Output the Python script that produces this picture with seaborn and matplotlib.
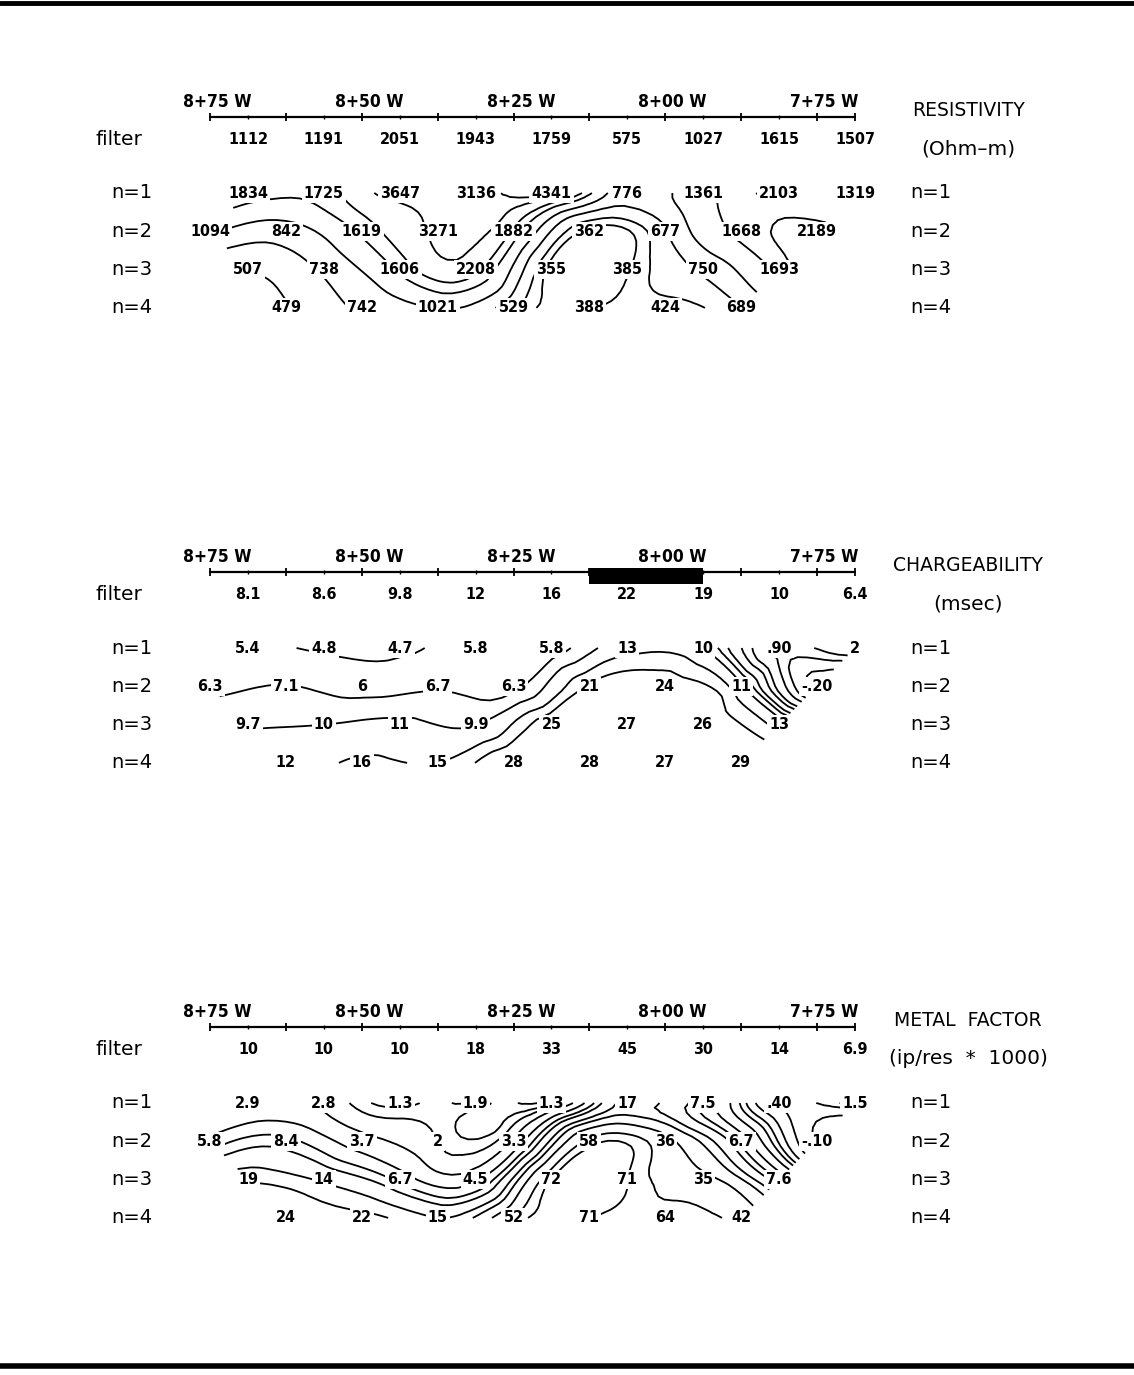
import numpy as np
import matplotlib
matplotlib.use("Agg")
import matplotlib.pyplot as plt
import matplotlib.tri as mtri
from matplotlib import font_manager
from matplotlib.lines import Line2D
from matplotlib.transforms import blended_transform_factory
import seaborn as sns

# station (m) of the plotted points, 8+75 W on the left
ST_ODD = [868.75, 856.25, 843.75, 831.25, 818.75, 806.25, 793.75, 781.25, 768.75]
ST_EVEN = [875.0, 862.5, 850.0, 837.5, 825.0, 812.5, 800.0, 787.5, 775.0]
ROW_STATIONS = {1: ST_ODD, 2: ST_EVEN, 3: ST_ODD[:8], 4: ST_EVEN[1:8]}

STATION_TICKS = [875, 850, 825, 800, 775]
STATION_LABELS = ["8+75 W", "8+50 W", "8+25 W", "8+00 W", "7+75 W"]

# resistivity (Ohm-m)
res_filter = ["1112", "1191", "2051", "1943", "1759", "575", "1027", "1615", "1507"]
res_n1 = ["1834", "1725", "3647", "3136", "4341", "776", "1361", "2103", "1319"]
res_n2 = ["1094", "842", "1619", "3271", "1882", "362", "677", "1668", "2189"]
res_n3 = ["507", "738", "1606", "2208", "355", "385", "750", "1693"]
res_n4 = ["479", "742", "1021", "529", "388", "424", "689"]
res_levels = [400, 500, 700, 1000, 1500, 2000, 3000, 4000]

# chargeability (msec)
chg_filter = ["8.1", "8.6", "9.8", "12", "16", "22", "19", "10", "6.4"]
chg_n1 = ["5.4", "4.8", "4.7", "5.8", "5.8", "13", "10", ".90", "2"]
chg_n2 = ["6.3", "7.1", "6", "6.7", "6.3", "21", "24", "11", "-.20"]
chg_n3 = ["9.7", "10", "11", "9.9", "25", "27", "26", "13"]
chg_n4 = ["12", "16", "15", "28", "28", "27", "29"]
chg_levels = [0, 0.5, 1, 2, 3, 5, 7, 10, 15, 20]
chg_zone = (812.5, 793.75)

# metal factor (ip/res * 1000)
mf_filter = ["10", "10", "10", "18", "33", "45", "30", "14", "6.9"]
mf_n1 = ["2.9", "2.8", "1.3", "1.9", "1.3", "17", "7.5", ".40", "1.5"]
mf_n2 = ["5.8", "8.4", "3.7", "2", "3.3", "58", "36", "6.7", "-.10"]
mf_n3 = ["19", "14", "6.7", "4.5", "72", "71", "35", "7.6"]
mf_n4 = ["24", "22", "15", "52", "71", "64", "42"]
mf_levels = [0, 0.5, 1, 1.5, 2, 3, 5, 7.5, 10, 15, 20, 30, 50, 70]

sns.set_theme(style="white")
plt.rcParams["font.family"] = ["DejaVu Sans"]
plt.rcParams["text.color"] = "black"

# narrow plotter-like font for the numbers
fonts = font_manager.fontManager.ttflist
names = {f.name for f in fonts}
NUM = dict(family="DejaVu Sans", weight="bold", size=10.5)
if "Liberation Sans Narrow" in names:
    NUM = dict(family="Liberation Sans Narrow", weight="bold", size=12)
elif any(f.name == "DejaVu Sans" and f.stretch == "condensed" for f in fonts):
    NUM = dict(family="DejaVu Sans", stretch="condensed", weight="bold", size=11.5)
elif "Liberation Sans" in names:
    NUM = dict(family="Liberation Sans", weight="bold", size=11)
STN = dict(NUM, size=NUM["size"] + 1)

W, H = 1134, 1375
PX_M = (855 - 210) / 106.25      # pixels per metre along the line
ROW_PX = 38.3                    # pixels per n level
ROW_M = ROW_PX / PX_M            # n spacing in metres for triangulation
BAND = 150

fig = plt.figure(figsize=(W / 100, H / 100), dpi=100)


def draw_panel(n1_px, title, unit, filt, rows, levels, scale, zone=None,
               kind="min_E"):
    top_px = n1_px - BAND
    ax = fig.add_axes([0, 1 - (top_px + 2 * BAND) / H, 1, 2 * BAND / H])
    ax.set_xlim(875 + 210 / PX_M, 875 - (W - 210) / PX_M)
    ax.set_ylim(1 + BAND / ROW_PX, 1 - BAND / ROW_PX)
    ax.axis("off")
    lab = blended_transform_factory(ax.transAxes, ax.transData)

    axis_y, filt_y, st_y = -0.99, -0.39, -1.37

    # station line with ticks
    ax.plot([875, 768.75], [axis_y, axis_y], color="black", lw=1.6, zorder=2)
    ax.vlines(np.arange(875, 770, -12.5), axis_y - 0.1, axis_y + 0.1,
              color="black", lw=1.3)
    ax.vlines(np.arange(868.75, 770, -12.5), axis_y - 0.05, axis_y + 0.05,
              color="black", lw=1.0)
    ax.vlines([768.75], axis_y - 0.1, axis_y + 0.1, color="black", lw=1.3)
    for st, s in zip(STATION_TICKS, STATION_LABELS):
        ax.text(st - 1.2, st_y, s, ha="center", va="center", **STN)
    if zone is not None:
        ax.fill_between(list(zone), -1.09, -0.68, color="black", lw=0, zorder=2)

    # filter row
    for st, v in zip(ST_ODD, filt):
        ax.text(st, filt_y, v, ha="center", va="center", zorder=4, **NUM)

    # pseudosection values
    xs, ys, zs = [], [], []
    for n, vals in enumerate(rows, start=1):
        for st, v in zip(ROW_STATIONS[n], vals):
            xs.append(st)
            ys.append(n)
            zs.append(float(v))
            ax.text(st, n, v, ha="center", va="center", zorder=4,
                    bbox=dict(facecolor="white", edgecolor="none", pad=1.5),
                    **NUM)
    xs, ys = np.array(xs), np.array(ys, float)
    zs = scale(np.array(zs))
    lv = scale(np.array(levels, float))

    tri_d = mtri.Triangulation(xs, ys * ROW_M)
    tri = mtri.Triangulation(xs, ys, triangles=tri_d.triangles)
    tri.set_mask(mtri.TriAnalyzer(tri_d).get_flat_tri_mask(0.05))
    interp = mtri.CubicTriInterpolator(tri, zs, kind=kind)
    tri_f, z_f = mtri.UniformTriRefiner(tri).refine_field(zs, interp, subdiv=3)
    ax.tricontour(tri_f, z_f, levels=lv, colors="black", linewidths=1.3,
                  zorder=1)

    # left and right row labels
    ax.text(96 / W, filt_y, "filter", transform=lab, ha="left", va="center",
            fontsize=14.5)
    for n in range(1, 5):
        ax.text(152 / W, n, f"n={n}", transform=lab, ha="right", va="center",
                fontsize=14)
        ax.text(910 / W, n, f"n={n}", transform=lab, ha="left", va="center",
                fontsize=14)
    ax.text(968 / W, -1.16, title, transform=lab, ha="center", va="center",
            fontsize=13.5)
    ax.text(968 / W, -0.16, unit, transform=lab, ha="center", va="center",
            fontsize=14.5)
    return ax


def log_scale(v):
    return np.log10(v)


def asinh_scale(v):
    return np.arcsinh(v / 0.5)


draw_panel(193, "RESISTIVITY", "(Ohm\u2013m)", res_filter,
           [res_n1, res_n2, res_n3, res_n4], res_levels, log_scale)
draw_panel(648, "CHARGEABILITY", "(msec)", chg_filter,
           [chg_n1, chg_n2, chg_n3, chg_n4], chg_levels, asinh_scale,
           zone=chg_zone, kind="geom")
draw_panel(1103, "METAL  FACTOR", "(ip/res  *  1000)", mf_filter,
           [mf_n1, mf_n2, mf_n3, mf_n4], mf_levels, asinh_scale)

# frame lines at top and bottom
fig.add_artist(Line2D([0, 1], [1 - 2.5 / H, 1 - 2.5 / H], color="black", lw=3.5))
fig.add_artist(Line2D([0, 1], [1 - 1366 / H, 1 - 1366 / H], color="black", lw=4))

fig.savefig("out.png", dpi=100, facecolor="white")
